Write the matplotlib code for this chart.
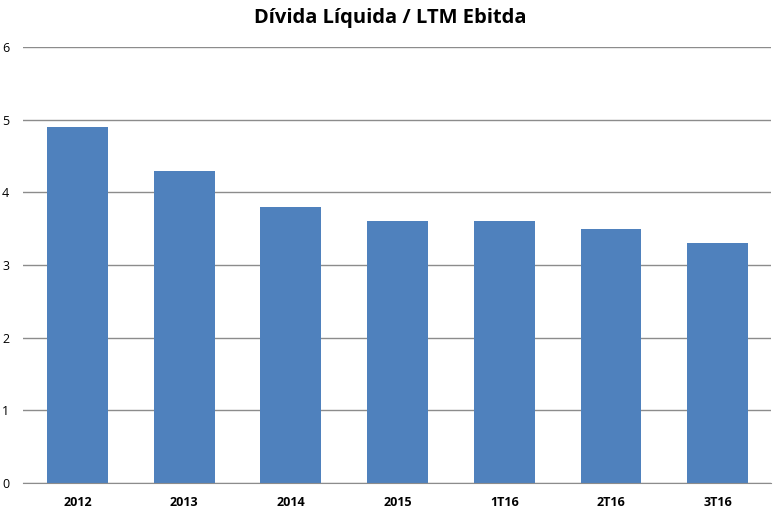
import matplotlib
matplotlib.use("Agg")
import matplotlib.pyplot as plt

categories = ["2012", "2013", "2014", "2015", "1T16", "2T16", "3T16"]
values = [4.9, 4.3, 3.8, 3.6, 3.6, 3.5, 3.3]
yticks = [0, 1, 2, 3, 4, 5, 6]
title = "Dívida Líquida / LTM Ebitda"

fig = plt.figure(figsize=(7.81, 5.11), dpi=100)
ax = fig.add_axes([23/781, 1-483/511, (771-23)/781, (483-47)/511])

x = list(range(len(categories)))
ax.bar(x, values, width=0.57, color="#4F81BD", zorder=3)
ax.set_xlim(-0.51, 6.5)
ax.set_ylim(0, 6)
ax.set_yticks(yticks)
ax.set_yticklabels([str(t) for t in yticks], fontsize=9, family=["Open Sans", "DejaVu Sans"])
ax.set_xticks(x)
ax.set_xticklabels(categories, fontsize=9, fontweight="bold", family=["Open Sans", "DejaVu Sans"])
ax.tick_params(axis="both", length=0)
ax.tick_params(axis="y", pad=10)
ax.tick_params(axis="x", pad=9)
ax.yaxis.grid(True, color="#8c8c8c", linewidth=1, zorder=0)
for s in ["top", "right", "left"]:
    ax.spines[s].set_visible(False)
ax.spines["bottom"].set_color("#8c8c8c")
ax.spines["bottom"].set_zorder(4)

fig.text(0.5, 1-18/511, title, ha="center", va="center", fontsize=14.5,
         fontweight="bold", family=["Open Sans", "DejaVu Sans"])

fig.savefig("out.png", dpi=100)
